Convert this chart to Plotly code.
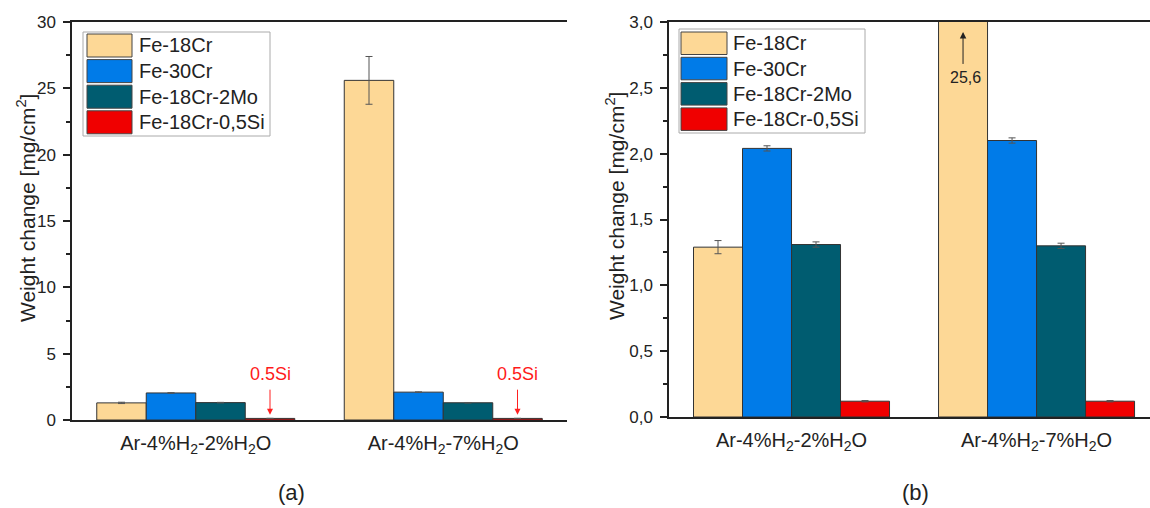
import plotly.graph_objects as go

# ---- data -------------------------------------------------------------
categories = ["Ar-4%H<sub>2</sub>-2%H<sub>2</sub>O", "Ar-4%H<sub>2</sub>-7%H<sub>2</sub>O"]
alloys = ["Fe-18Cr", "Fe-30Cr", "Fe-18Cr-2Mo", "Fe-18Cr-0,5Si"]

fe18cr = [1.29, 25.6]
fe18cr_err = [0.05, 1.8]
fe30cr = [2.04, 2.10]
fe30cr_err = [0.02, 0.02]
fe18cr2mo = [1.31, 1.30]
fe18cr2mo_err = [0.02, 0.02]
fe18cr05si = [0.12, 0.12]
fe18cr05si_err = [0.005, 0.005]

values = [fe18cr, fe30cr, fe18cr2mo, fe18cr05si]
errors = [fe18cr_err, fe30cr_err, fe18cr2mo_err, fe18cr05si_err]
colors = ["#FDD896", "#007BE8", "#005C70", "#F00000"]

y_ticks_a = [0, 5, 10, 15, 20, 25, 30]
y_ticks_b = [0.0, 0.5, 1.0, 1.5, 2.0, 2.5, 3.0]

W, H = 1150, 508
FONT = "Liberation Sans, Arial, sans-serif"
INK = "#222222"


def px(x):
    return x / W


def py(y):
    return 1 - y / H


BAR_GAP = 0.2
GROUP_W = 1 - BAR_GAP
N = len(alloys)


def bar_offset(i):
    # centre of the i-th bar inside a category group
    return -GROUP_W / 2 + GROUP_W / N * (i + 0.5)


fig = go.Figure()

for panel, (xa, ya) in enumerate([("x", "y"), ("x2", "y2")]):
    for name, vals, errs, col in zip(alloys, values, errors, colors):
        fig.add_trace(go.Bar(
            x=categories, y=vals, name=name, xaxis=xa, yaxis=ya,
            marker=dict(color=col, line=dict(color="#333333", width=1)),
            error_y=dict(type="data", array=errs, visible=True,
                         color="#555555", thickness=1, width=3.5),
            showlegend=False,
        ))

axis_line = dict(showline=True, linecolor=INK, linewidth=1.5, showgrid=False,
                 zeroline=False, automargin=False)
tick_font = dict(family=FONT, size=17, color=INK)
cat_font = dict(family=FONT, size=20, color=INK)

fig.update_layout(
    width=W, height=H,
    margin=dict(l=0, r=0, t=0, b=0, autoexpand=False),
    paper_bgcolor="white", plot_bgcolor="white",
    barmode="group", bargap=BAR_GAP, bargroupgap=0,
    separators=",.",
    showlegend=False,
    font=dict(family=FONT, color=INK),
    xaxis=dict(domain=[px(72), px(567)], anchor="y", range=[-0.5, 1.5],
               type="category", mirror=True, ticks="", tickfont=cat_font,
               ticklabelstandoff=4, **axis_line),
    yaxis=dict(domain=[py(420), py(22)], anchor="x", range=[0, 30],
               tickvals=y_ticks_a, ticks="outside", ticklen=7, tickwidth=1.5,
               tickcolor=INK, tickfont=tick_font, ticklabelstandoff=4,
               minor=dict(dtick=2.5, ticks="outside", ticklen=4, tickwidth=1.5,
                          tickcolor=INK, showgrid=False),
               **axis_line),
    yaxis3=dict(overlaying="y", anchor="x", side="right", range=[0, 30],
                tickvals=y_ticks_a, ticks="inside", ticklen=7, tickwidth=1.5,
                tickcolor=INK, showticklabels=False,
                minor=dict(dtick=2.5, ticks="inside", ticklen=4, tickwidth=1.5,
                           tickcolor=INK, showgrid=False),
                **axis_line),
    xaxis2=dict(domain=[px(669), 1.0], anchor="y2", range=[-0.5, 1.463],
                type="category", mirror=True, ticks="", tickfont=cat_font,
                ticklabelstandoff=4, **axis_line),
    yaxis2=dict(domain=[py(417), py(22)], anchor="x2", range=[0, 3],
                tickvals=y_ticks_b, tickformat=".1f", ticks="outside", ticklen=7,
                tickwidth=1.5, tickcolor=INK, tickfont=tick_font,
                ticklabelstandoff=4,
                minor=dict(dtick=0.25, ticks="outside", ticklen=4, tickwidth=1.5,
                           tickcolor=INK, showgrid=False),
                **axis_line),
)

annotations = []
shapes = []

# axis titles
for xc, yc in [(26, 208), (615, 206)]:
    annotations.append(dict(
        xref="paper", yref="paper", x=px(xc), y=py(yc), showarrow=False,
        xanchor="center", yanchor="middle",
        text="Weight change [mg/cm<sup>2</sup>]", textangle=-90,
        font=dict(family=FONT, size=21, color=INK)))

# panel labels
for lbl, xc in [("(a)", 291), ("(b)", 915)]:
    annotations.append(dict(
        xref="paper", yref="paper", x=px(xc), y=py(492), showarrow=False,
        xanchor="center", yanchor="middle",
        text=lbl, font=dict(family=FONT, size=22, color=INK)))

# "0.5Si" markers pointing at the tiny Si bars in panel (a)
si_idx = alloys.index("Fe-18Cr-0,5Si")
for c in range(len(categories)):
    xpos = c + bar_offset(si_idx)
    annotations.append(dict(
        xref="x", yref="y", axref="x", ayref="y",
        x=xpos, y=0.4, ax=xpos, ay=2.4, text="", showarrow=True,
        arrowhead=2, arrowsize=1.2, arrowwidth=1, arrowcolor="#FF2020"))
    annotations.append(dict(
        xref="x", yref="y", x=xpos, y=3.45, showarrow=False, text="0.5Si",
        xanchor="center", yanchor="middle",
        font=dict(family=FONT, size=18, color="#FF1A1A")))

# off-scale Fe-18Cr bar in panel (b)
big_idx = alloys.index("Fe-18Cr")
xbig = 1 + bar_offset(big_idx)
annotations.append(dict(
    xref="x2", yref="y2", axref="x2", ayref="y2",
    x=xbig, y=2.925, ax=xbig, ay=2.67, text="", showarrow=True,
    arrowhead=2, arrowsize=1.3, arrowwidth=1, arrowcolor="#222222"))
annotations.append(dict(
    xref="x2", yref="y2", x=xbig + 0.01, y=2.58, showarrow=False,
    xanchor="center", yanchor="middle",
    text=str(fe18cr[1]).replace(".", ","),
    font=dict(family=FONT, size=16, color=INK)))


# boxed legends with large swatches
def add_legend(box, sw_x, row_top, row_pitch, row_h, text_x):
    x0, y0, x1, y1 = box
    shapes.append(dict(type="rect", xref="paper", yref="paper",
                       x0=px(x0), x1=px(x1), y0=py(y1), y1=py(y0),
                       line=dict(color="#AAAAAA", width=1), fillcolor="white",
                       layer="above"))
    for i, (name, col) in enumerate(zip(alloys, colors)):
        top = row_top + i * row_pitch
        shapes.append(dict(type="rect", xref="paper", yref="paper",
                           x0=px(sw_x[0]), x1=px(sw_x[1]),
                           y0=py(top + row_h), y1=py(top),
                           line=dict(color="#444444", width=1), fillcolor=col,
                           layer="above"))
        annotations.append(dict(
            xref="paper", yref="paper", x=px(text_x), y=py(top + row_h / 2),
            xanchor="left", yanchor="middle", showarrow=False, text=name,
            font=dict(family=FONT, size=20, color=INK)))


add_legend((83, 32, 270, 136), (87, 132), 34, 25.6, 23, 137)
add_legend((679, 29, 865, 133), (681, 727), 32, 25.3, 22.5, 731)

fig.update_layout(annotations=annotations, shapes=shapes)

fig.write_html("out.html")
